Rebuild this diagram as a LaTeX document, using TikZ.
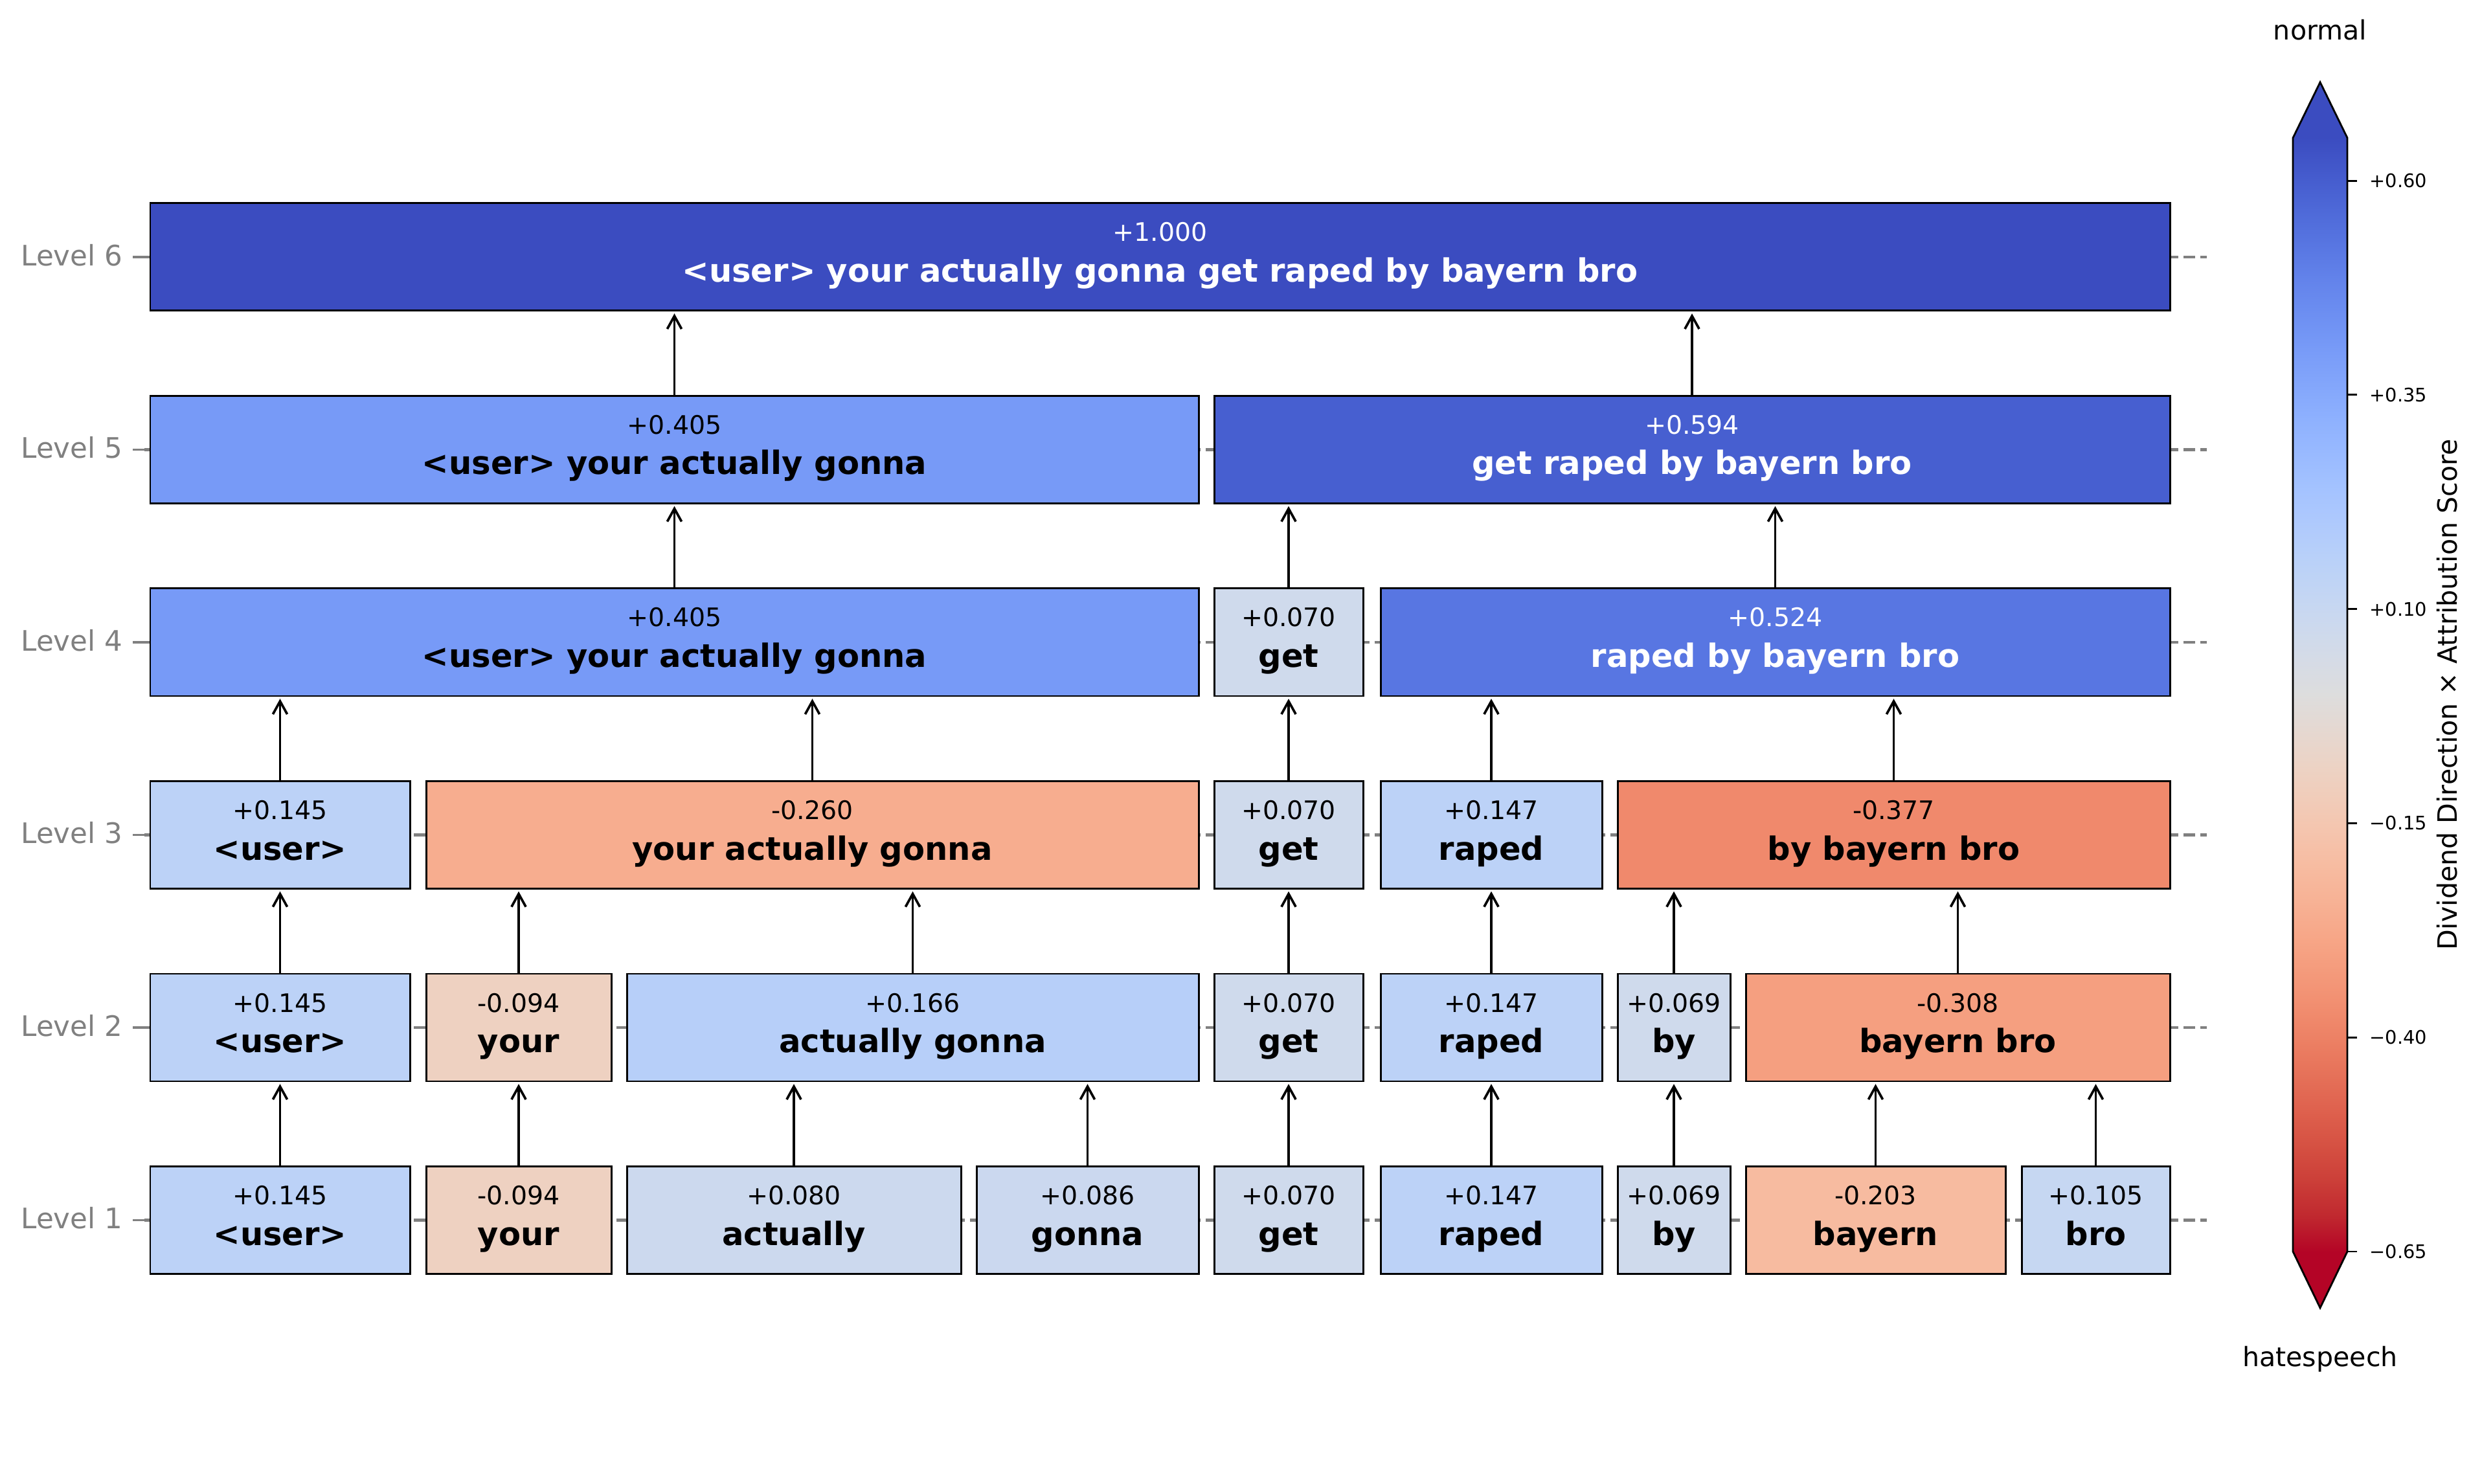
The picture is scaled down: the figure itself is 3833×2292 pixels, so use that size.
\documentclass[tikz,border=0pt]{standalone}
\usepackage{fontspec}
\setmainfont{DejaVu Sans}
\usetikzlibrary{arrows.meta}
\definecolor{lvlgray}{RGB}{128,128,128}
\definecolor{cA}{HTML}{BCD2F7}
\definecolor{cYour}{HTML}{EED1C1}
\definecolor{cAct}{HTML}{CCD9EE}
\definecolor{cGon}{HTML}{CBD8EF}
\definecolor{cGet}{HTML}{CFDAEC}
\definecolor{cBay}{HTML}{F7BBA0}
\definecolor{cBro}{HTML}{C6D7F2}
\definecolor{cAG}{HTML}{B7CFF9}
\definecolor{cBB}{HTML}{F59F80}
\definecolor{cYAG}{HTML}{F7AD8F}
\definecolor{cBBB}{HTML}{F0896C}
\definecolor{cUYAG}{HTML}{779AF7}
\definecolor{cRBBB}{HTML}{5876E2}
\definecolor{cGRBBB}{HTML}{475FD0}
\definecolor{cAll}{HTML}{3B4CC0}
% coolwarm (reversed: index 0 = top = blue)
\definecolor{cw0}{RGB}{59,76,192}
\definecolor{cw1}{RGB}{68,90,204}
\definecolor{cw2}{RGB}{77,104,215}
\definecolor{cw3}{RGB}{87,117,225}
\definecolor{cw4}{RGB}{98,130,234}
\definecolor{cw5}{RGB}{108,142,241}
\definecolor{cw6}{RGB}{119,154,247}
\definecolor{cw7}{RGB}{130,165,251}
\definecolor{cw8}{RGB}{141,176,254}
\definecolor{cw9}{RGB}{152,185,255}
\definecolor{cw10}{RGB}{163,194,255}
\definecolor{cw11}{RGB}{174,201,253}
\definecolor{cw12}{RGB}{184,208,249}
\definecolor{cw13}{RGB}{194,213,244}
\definecolor{cw14}{RGB}{204,217,238}
\definecolor{cw15}{RGB}{213,219,230}
\definecolor{cw16}{RGB}{221,221,221}
\definecolor{cw17}{RGB}{229,216,209}
\definecolor{cw18}{RGB}{236,211,197}
\definecolor{cw19}{RGB}{241,204,185}
\definecolor{cw20}{RGB}{245,196,173}
\definecolor{cw21}{RGB}{247,187,160}
\definecolor{cw22}{RGB}{247,177,148}
\definecolor{cw23}{RGB}{247,166,135}
\definecolor{cw24}{RGB}{244,154,123}
\definecolor{cw25}{RGB}{241,141,111}
\definecolor{cw26}{RGB}{236,127,99}
\definecolor{cw27}{RGB}{229,112,88}
\definecolor{cw28}{RGB}{222,96,77}
\definecolor{cw29}{RGB}{213,80,66}
\definecolor{cw30}{RGB}{203,62,56}
\definecolor{cw31}{RGB}{192,40,47}
\definecolor{cw32}{RGB}{180,4,38}

\newcommand\mybox[8]{%
  \node[tokbox, fill=#5, minimum width={(#3-#2)*0.01cm}] (#1) at ({(#2+#3)/2},#4) {};
  \node[valtxt, text=#6] (#1v) at ({(#2+#3)/2},{#4-24}) {#7};
  \node[toktxt, text=#6] (#1t) at ({(#2+#3)/2},{#4+38.5}) {#8};
}

\begin{document}
\begin{tikzpicture}[x=0.01cm,y=-0.01cm,
  tokbox/.style={draw=black, line width=0.85pt, rectangle, inner sep=0pt, outer sep=0pt, minimum height={166*0.01cm}},
  valtxt/.style={anchor=base, inner sep=0pt, font=\fontsize{11.2pt}{13pt}\selectfont},
  toktxt/.style={anchor=base, inner sep=0pt, font=\fontsize{14.1pt}{17pt}\selectfont\bfseries},
  lvl/.style={anchor=east, inner sep=0pt, text=lvlgray, font=\fontsize{12.4pt}{15pt}\selectfont},
  levline/.style={draw=lvlgray, line width=1.3pt, dash pattern=on 5.1pt off 2.3pt},
  tickmark/.style={draw=lvlgray, line width=1.1pt},
  link/.style={draw=black, line width=1.05pt, -{Straight Barb[length=5.7pt,width=6.3pt]}, shorten >=1.2pt},
  cbtick/.style={draw=black, line width=0.8pt},
  cbtxt/.style={anchor=west, inner sep=0pt, font=\fontsize{8.2pt}{10pt}\selectfont},
  cblab/.style={inner sep=0pt, font=\fontsize{11.7pt}{14pt}\selectfont}]
\useasboundingbox (0,0) rectangle (3833,2292);

% level guide lines, ticks and labels
\foreach \lv/\yy in {1/1884.5,2/1587,3/1289.5,4/992,5/694.5,6/397}{
  \coordinate (gl\lv) at (223,\yy);
  \coordinate (gr\lv) at (3408,\yy);
  \coordinate (tk\lv) at (205,\yy);
  \draw[levline] (gl\lv) -- (gr\lv);
  \draw[tickmark] (tk\lv) -- (gl\lv);
  \node[lvl] (lab\lv) at (190,{\yy-3}) {Level \lv};
}

% Level 1
\mybox{a1}{232}{633}{1884.5}{cA}{black}{+0.145}{<user>}
\mybox{b1}{658}{944}{1884.5}{cYour}{black}{-0.094}{your}
\mybox{c1}{968}{1484}{1884.5}{cAct}{black}{+0.080}{actually}
\mybox{d1}{1508}{1851}{1884.5}{cGon}{black}{+0.086}{gonna}
\mybox{e1}{1875}{2105}{1884.5}{cGet}{black}{+0.070}{get}
\mybox{f1}{2132}{2474}{1884.5}{cA}{black}{+0.147}{raped}
\mybox{g1}{2498}{2672}{1884.5}{cGet}{black}{+0.069}{by}
\mybox{h1}{2696}{3097}{1884.5}{cBay}{black}{-0.203}{bayern}
\mybox{i1}{3122}{3351}{1884.5}{cBro}{black}{+0.105}{bro}
% Level 2
\mybox{a2}{232}{633}{1587}{cA}{black}{+0.145}{<user>}
\mybox{b2}{658}{944}{1587}{cYour}{black}{-0.094}{your}
\mybox{c2}{968}{1851}{1587}{cAG}{black}{+0.166}{actually gonna}
\mybox{e2}{1875}{2105}{1587}{cGet}{black}{+0.070}{get}
\mybox{f2}{2132}{2474}{1587}{cA}{black}{+0.147}{raped}
\mybox{g2}{2498}{2672}{1587}{cGet}{black}{+0.069}{by}
\mybox{h2}{2696}{3351}{1587}{cBB}{black}{-0.308}{bayern bro}
% Level 3
\mybox{a3}{232}{633}{1289.5}{cA}{black}{+0.145}{<user>}
\mybox{b3}{658}{1851}{1289.5}{cYAG}{black}{-0.260}{your actually gonna}
\mybox{e3}{1875}{2105}{1289.5}{cGet}{black}{+0.070}{get}
\mybox{f3}{2132}{2474}{1289.5}{cA}{black}{+0.147}{raped}
\mybox{g3}{2498}{3351}{1289.5}{cBBB}{black}{-0.377}{by bayern bro}
% Level 4
\mybox{a4}{232}{1851}{992}{cUYAG}{black}{+0.405}{<user> your actually gonna}
\mybox{e4}{1875}{2105}{992}{cGet}{black}{+0.070}{get}
\mybox{f4}{2132}{3351}{992}{cRBBB}{white}{+0.524}{raped by bayern bro}
% Level 5
\mybox{a5}{232}{1851}{694.5}{cUYAG}{black}{+0.405}{<user> your actually gonna}
\mybox{e5}{1875}{3351}{694.5}{cGRBBB}{white}{+0.594}{get raped by bayern bro}
% Level 6
\mybox{a6}{232}{3351}{397}{cAll}{white}{+1.000}{<user> your actually gonna get raped by bayern bro}

% arrows
\foreach \c/\p in {a1/a2,b1/b2,c1/c2,d1/c2,e1/e2,f1/f2,g1/g2,h1/h2,i1/h2,
                   a2/a3,b2/b3,c2/b3,e2/e3,f2/f3,g2/g3,h2/g3,
                   a3/a4,b3/a4,e3/e4,f3/f4,g3/f4,
                   a4/a5,e4/e5,f4/e5,
                   a5/a6,e5/a6}{
  \draw[link] (\c.north) -- (\c.north |- \p.south);
}

% colour bar
\foreach \k in {0,...,31}{
  \pgfmathtruncatemacro\kn{\k+1}
  \shade[top color=cw\k, bottom color=cw\kn] (3541,{213+53.75*\k-0.5}) rectangle (3625,{213+53.75*(\k+1)+0.5});
}
\coordinate (cbtl) at (3541,213);
\coordinate (cbtr) at (3625,213);
\coordinate (cbbl) at (3541,1933);
\coordinate (cbbr) at (3625,1933);
\coordinate (cbtop) at (3583,127);
\coordinate (cbbot) at (3583,2020);
\fill[cw0] (cbtl) -- (cbtop) -- (cbtr) -- cycle;
\fill[cw32] (cbbl) -- (cbbot) -- (cbbr) -- cycle;
\draw[black, line width=0.8pt, line join=miter] (cbtl) -- (cbtop) -- (cbtr) -- (cbbr) -- (cbbot) -- (cbbl) -- cycle;
\foreach \n/\yy/\t in {t1/279.2/+0.60, t2/609.9/+0.35, t3/940.7/+0.10, t4/1271.5/−0.15, t5/1602.3/−0.40, t6/1933/−0.65}{
  \coordinate (cb\n a) at (3625,\yy);
  \coordinate (cb\n b) at (3640,\yy);
  \draw[cbtick] (cb\n a) -- (cb\n b);
  \node[cbtxt] (cbl\n) at (3659,\yy) {\t};
}
\node[cblab, rotate=90] (cblabel) at (3779,1073) {Dividend Direction × Attribution Score};
\node[cblab, anchor=base] (normal) at (3583,62) {normal};
\node[cblab, anchor=base] (hate) at (3583,2110) {hatespeech};
\end{tikzpicture}
\end{document}
